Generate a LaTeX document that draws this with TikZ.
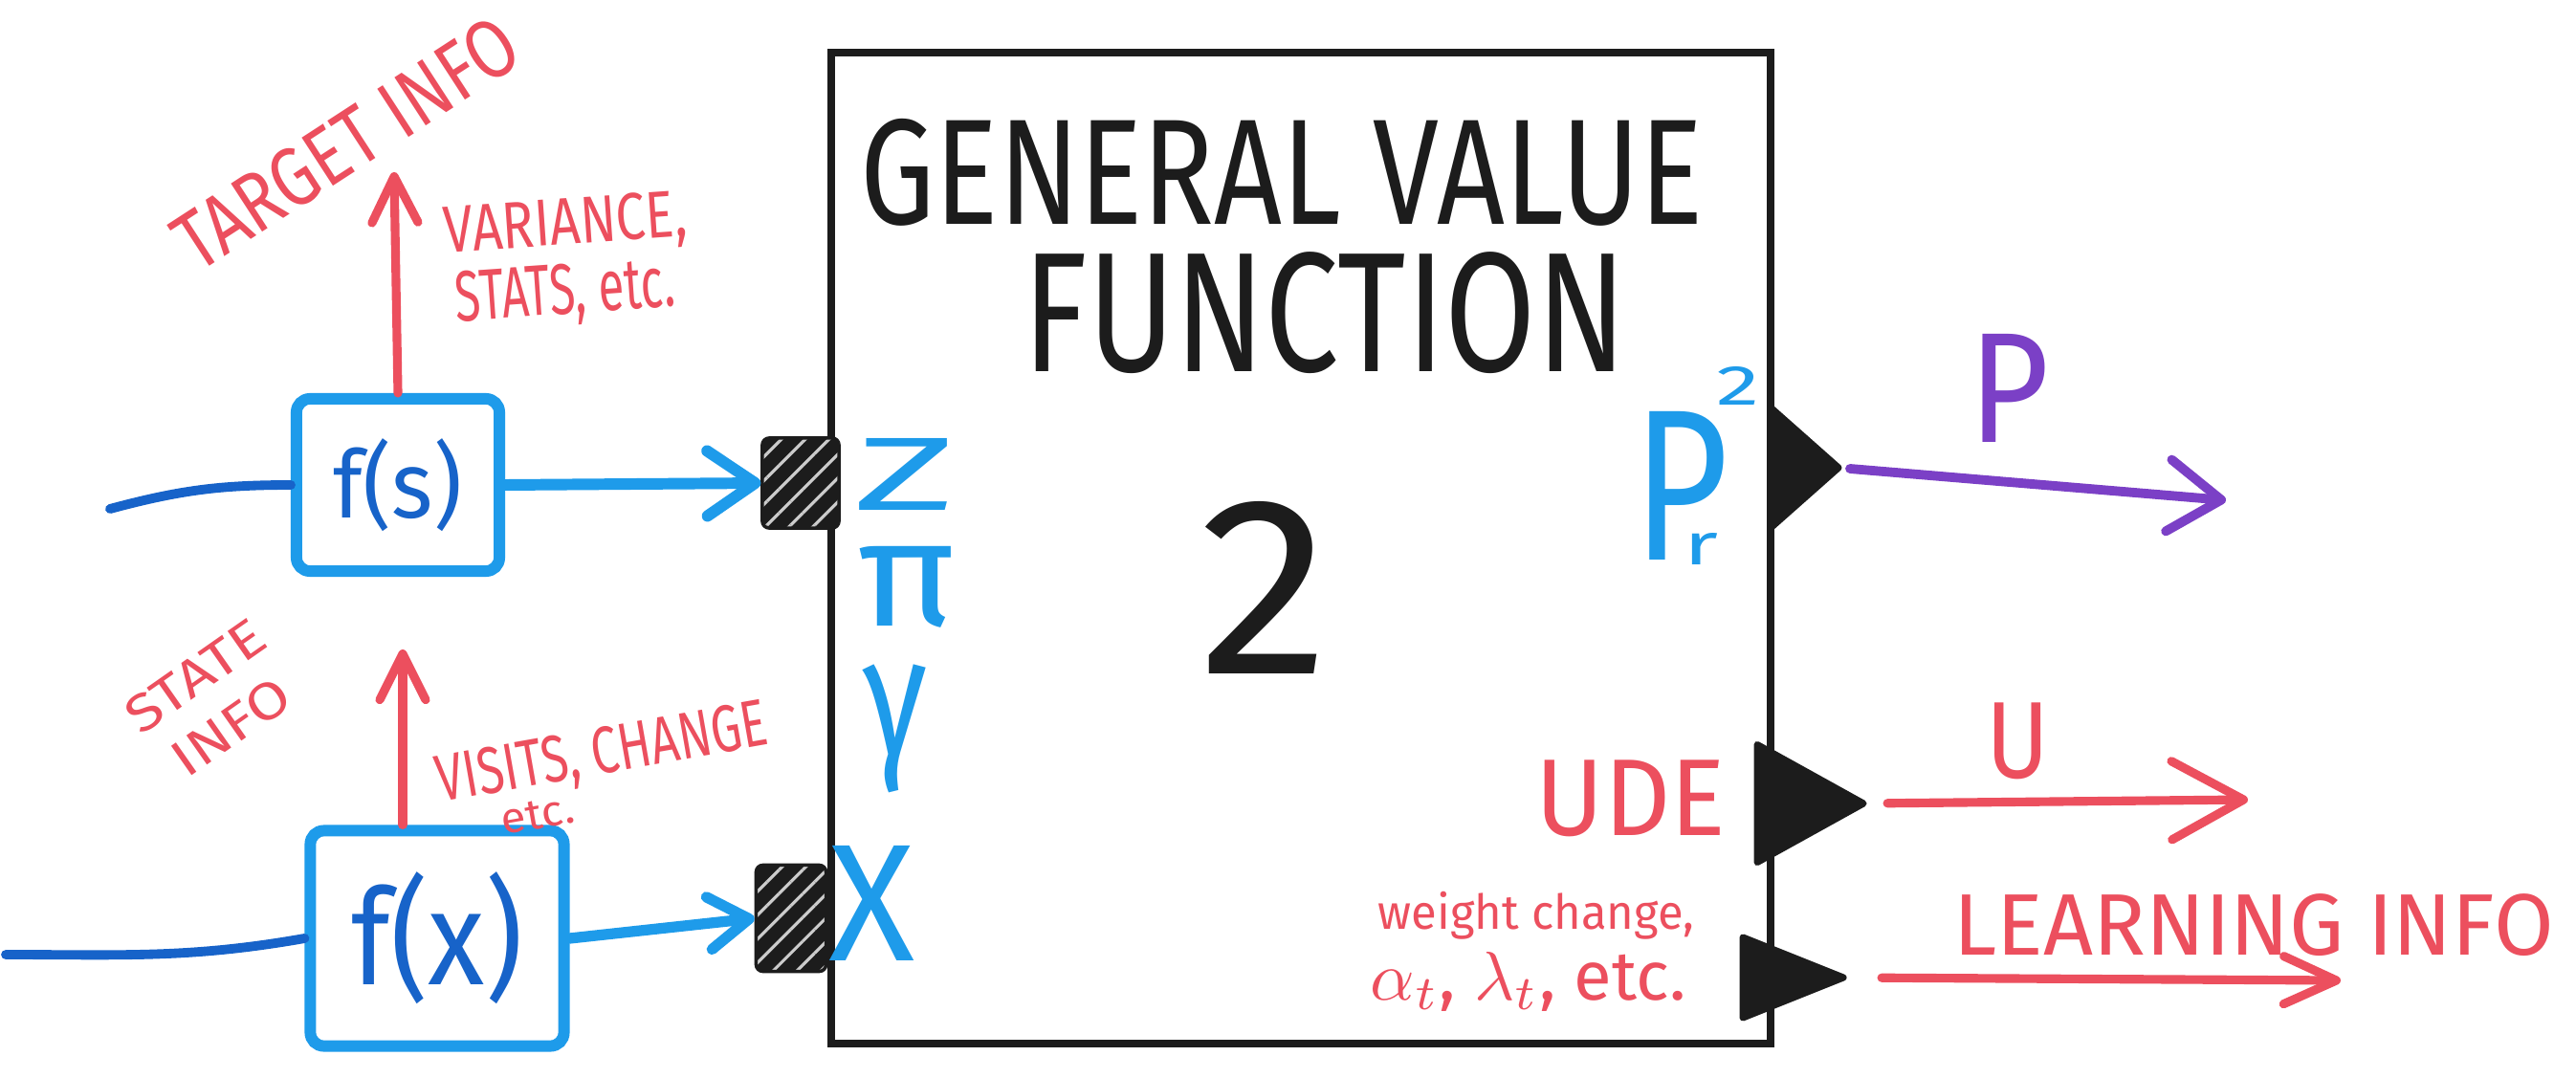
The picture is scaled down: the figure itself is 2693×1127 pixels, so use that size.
\documentclass[tikz,border=0pt]{standalone}
\usepackage{fontspec}
\setmainfont{Fira Sans}
\usepackage{graphicx}
\usetikzlibrary{arrows.meta,shapes.geometric,patterns.meta}
\definecolor{mred}{HTML}{EC4F5E}
\definecolor{mblue}{HTML}{1E9BEA}
\definecolor{dblue}{HTML}{1763C9}
\definecolor{mpurple}{HTML}{7B40C6}
\definecolor{mblack}{HTML}{1C1C1C}
\newcommand\fitbox[3]{\resizebox*{#1}{#2}{#3}}
\begin{document}
\begin{tikzpicture}[x=0.01cm,y=-0.01cm,
  txt/.style={inner sep=0pt, outer sep=0pt},
  redtxt/.style={txt, text=mred},
  bluetxt/.style={txt, text=mblue},
  fbox/.style={draw=mblue, line width=3.4pt, rounded corners=4pt, inner sep=0pt},
  gvfbox/.style={draw=mblack, line width=2.3pt, inner sep=0pt},
  inport/.style={draw=mblack, line width=1pt, preaction={fill=mblack},
     pattern={Lines[angle=45,distance=5pt,line width=0.9pt]}, pattern color=white!80!black,
     inner sep=0pt, rounded corners=2pt},
  outport/.style={isosceles triangle, isosceles triangle stretches, fill=mblack, draw=mblack,
     line width=2pt, line join=round, inner sep=0pt, outer sep=0pt, anchor=lower side},
  inline/.style={draw=dblue, line width=2.8pt, line cap=round},
  bluearrowA/.style={draw=mblue, line width=3.4pt, line cap=round, -{Straight Barb[length=0.5cm,width=0.68cm,round]}},
  bluearrowB/.style={draw=mblue, line width=3.2pt, line cap=round, -{Straight Barb[length=0.42cm,width=0.55cm,round]}},
  redup/.style={draw=mred, line width=2.6pt, line cap=round, -{Straight Barb[length=0.48cm,width=0.48cm,round]}},
  purplearrow/.style={draw=mpurple, line width=2.8pt, line cap=round, -{Straight Barb[length=0.55cm,width=0.75cm,round]}},
  redarrowU/.style={draw=mred, line width=2.6pt, line cap=round, -{Straight Barb[length=0.75cm,width=0.82cm,round]}},
  redarrowL/.style={draw=mred, line width=2.6pt, line cap=round, -{Straight Barb[length=0.55cm,width=0.5cm,round]}}
]
\fill[white] (0,0) rectangle (2693,1127);
\useasboundingbox (0,0) rectangle (2693,1127);

% main box
\node[gvfbox, minimum width=9.82cm, minimum height=10.36cm] (gvf) at (1360,573) {};
\node[txt, text=mblack] (t1) at (1340,180) {\fitbox{8.8cm}{1.12cm}{GENERAL VALUE}};
\node[txt, text=mblack] (t2) at (1385,327) {\fitbox{6.3cm}{1.27cm}{FUNCTION}};
\node[txt, text=mblack] (two) at (1322,614) {\fitbox{1.37cm}{1.8cm}{2}};

% left labels
\node[bluetxt] (lz) at (946,496) {\fitbox{1.07cm}{0.75cm}{Z}};
\node[bluetxt] (lpi) at (948,614) {\fitbox{1.03cm}{0.85cm}{π}};
\node[bluetxt] (lg) at (936,762) {\fitbox{0.67cm}{1.34cm}{γ}};
\node[bluetxt] (lx) at (912,944) {\fitbox{0.9cm}{1.2cm}{X}};

% input ports
\node[inport, minimum width=0.8cm, minimum height=0.94cm] (zport) at (837,505) {};
\node[inport, minimum width=0.73cm, minimum height=1.11cm] (xport) at (827,960) {};

% f boxes
\node[fbox, minimum width=2.12cm, minimum height=1.8cm] (fs) at (416,507) {\textcolor{dblue}{\fitbox{1.34cm}{0.97cm}{f(s)}}};
\node[fbox, minimum width=2.65cm, minimum height=2.25cm] (fx) at (457,981) {\textcolor{dblue}{\fitbox{1.79cm}{1.38cm}{f(x)}}};

% inputs
\coordinate (ins) at (115,532);
\coordinate (inx) at (6,998);
\draw[inline] (ins) to[out=15,in=180] (fs.west);
\draw[inline] (inx) to[out=0,in=190] (fx.west);

% blue arrows to ports
\draw[bluearrowA] (fs.east) -- (zport.west);
\draw[bluearrowB] (fx.east) -- (xport.west);

% red arrows up
\coordinate (tgttip) at (412,180);
\draw[redup] (fs.north) -- (tgttip);
\coordinate (sttip) at (421,679);
\draw[redup] (fx.north -| sttip) -- (sttip);

% red texts left
\node[redtxt, rotate=33] (tinfo) at (362,150) {\fitbox{4.1cm}{0.62cm}{TARGET INFO}};
\node[redtxt, rotate=4] (var) at (591,237) {\fitbox{2.55cm}{0.6cm}{VARIANCE,}};
\node[redtxt, rotate=4] (stats) at (591,308) {\fitbox{2.3cm}{0.65cm}{STATS, etc.}};
\node[redtxt, rotate=35] (sinfo) at (226,738) {\fitbox{1.65cm}{1.3cm}{\begin{tabular}{@{}c@{}}STATE\\INFO\end{tabular}}};
\node[redtxt, rotate=10] (visits) at (630,790) {\fitbox{3.5cm}{0.6cm}{VISITS, CHANGE}};
\node[redtxt, rotate=10] (etc1) at (562,852) {\fitbox{0.77cm}{0.3cm}{etc.}};

% right labels inside
\node[bluetxt] (rp) at (1758,508) {\fitbox{1.0cm}{1.55cm}{P}};
\node[bluetxt] (rp2) at (1817,403) {\fitbox{0.45cm}{0.4cm}{2}};
\node[bluetxt] (rpr) at (1778,574) {\fitbox{0.36cm}{0.33cm}{r}};
\node[redtxt] (ude) at (1705,835) {\fitbox{1.98cm}{0.8cm}{UDE}};
\node[redtxt] (wc) at (1606,957) {\fitbox{3.3cm}{0.5cm}{weight change,}};
\node[redtxt] (alt) at (1598,1026) {\fitbox{3.3cm}{0.62cm}{$\alpha_t$, $\lambda_t$, etc.}};

% output ports (minimum width = base, minimum height = base-to-apex)
\node[outport, minimum width=1.24cm, minimum height=0.7cm] (pport) at (1852,489) {};
\node[outport, minimum width=1.23cm, minimum height=1.11cm] (uport) at (1837,840) {};
\node[outport, minimum width=0.84cm, minimum height=1.05cm] (lport) at (1822,1022) {};

% output arrows
\coordinate (pend) at (2327,523);
\draw[purplearrow, shorten <=0.12cm] (pport.apex) -- (pend);
\coordinate (uend) at (2350,836);
\draw[redarrowU, shorten <=0.25cm] (uport.apex) -- (uend);
\coordinate (lend) at (2447,1025);
\draw[redarrowL, shorten <=0.4cm] (lport.apex) -- (lend);

% output labels
\node[txt, text=mpurple] (plbl) at (2101,406) {\fitbox{0.84cm}{1.13cm}{P}};
\node[redtxt] (ulbl) at (2109,775) {\fitbox{0.66cm}{0.8cm}{U}};
\node[redtxt] (linfo) at (2356,967) {\fitbox{6.27cm}{0.65cm}{LEARNING INFO}};
\end{tikzpicture}
\end{document}
